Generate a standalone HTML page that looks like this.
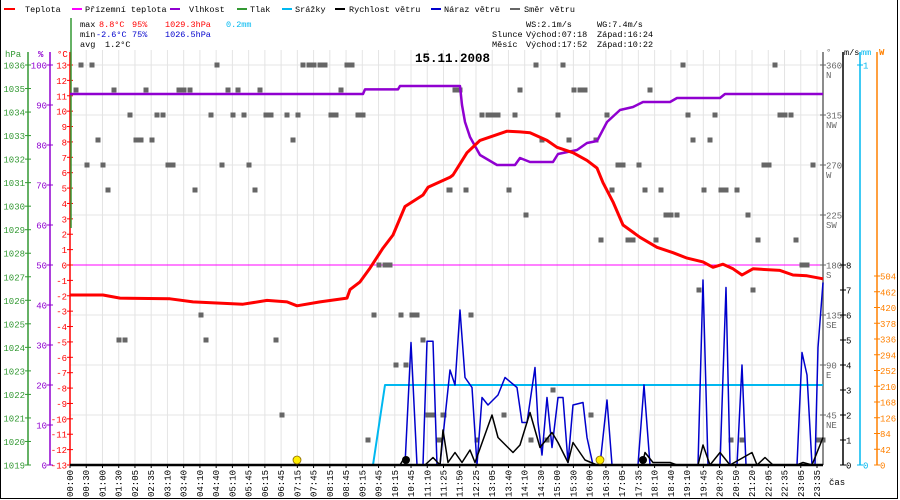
<!DOCTYPE html>
<html><head><meta charset="utf-8">
<style>
html,body{margin:0;padding:0;background:#fff;}
svg{display:block;font-family:"Liberation Mono",monospace;}
</style></head>
<body>
<svg id="chart" width="900" height="500" viewBox="0 0 900 500" xmlns="http://www.w3.org/2000/svg">
<rect x="0.5" y="-2" width="897" height="500.5" fill="#fff" stroke="#000" stroke-width="1"/>
<g id="grid"></g>
<g id="axes"></g>
<g id="series"></g>
<g font-size="8.5">
 <line x1="4" y1="9" x2="15" y2="9" stroke="#f00" stroke-width="2"/><text x="25" y="12">Teplota</text>
 <line x1="72" y1="9" x2="82" y2="9" stroke="#f0f" stroke-width="2"/><text x="85" y="12">Přízemní teplota</text>
 <line x1="170" y1="9" x2="180" y2="9" stroke="#9000d0" stroke-width="2"/><text x="189" y="12">Vlhkost</text>
 <line x1="237" y1="9" x2="247" y2="9" stroke="#339933" stroke-width="2"/><text x="250" y="12">Tlak</text>
 <line x1="282" y1="9" x2="292" y2="9" stroke="#00b8f0" stroke-width="2"/><text x="295" y="12">Srážky</text>
 <line x1="335" y1="9" x2="345" y2="9" stroke="#000" stroke-width="2"/><text x="349" y="12">Rychlost větru</text>
 <line x1="431" y1="9" x2="441" y2="9" stroke="#0000cc" stroke-width="2"/><text x="444" y="12">Náraz větru</text>
 <line x1="510" y1="9" x2="520" y2="9" stroke="#666" stroke-width="2"/><text x="524" y="12">Směr větru</text>
</g>
<g font-size="8.5">
 <text x="80" y="27">max</text><text x="99" y="27" fill="#f00">8.8°C</text><text x="132" y="27" fill="#f00">95%</text><text x="165" y="27" fill="#f00">1029.3hPa</text><text x="226" y="27" fill="#00b8f0">0.2mm</text>
 <text x="80" y="37">min</text><text x="96" y="37" fill="#0000cc">-2.6°C</text><text x="132" y="37" fill="#0000cc">75%</text><text x="165" y="37" fill="#0000cc">1026.5hPa</text>
 <text x="80" y="47">avg</text><text x="105" y="47">1.2°C</text>
 <text x="526" y="27">WS:2.1m/s</text><text x="597" y="27">WG:7.4m/s</text>
 <text x="492" y="37">Slunce</text><text x="526" y="37">Východ:07:18</text><text x="597" y="37">Západ:16:24</text>
 <text x="492" y="47">Měsíc</text><text x="526" y="47">Východ:17:52</text><text x="597" y="47">Západ:10:22</text>
</g>
<text x="415" y="62" font-size="12.5" font-weight="bold">15.11.2008</text>
</svg>
<script>
const timeLabels=["00:00","00:30","01:00","01:30","02:05","02:35","03:10","03:40","04:10","04:40","05:10","05:45","06:15","06:45","07:15","07:45","08:15","08:45","09:15","09:45","10:15","10:45","11:10","11:25","11:50","12:25","13:05","13:40","14:10","14:30","15:00","15:30","16:00","16:30","17:05","17:35","18:10","18:40","19:10","19:45","20:20","20:50","21:20","22:05","22:35","23:05","23:35"];
const hpaTicks=[1036,1035,1034,1033,1032,1031,1030,1029,1028,1027,1026,1025,1024,1023,1022,1021,1020,1019];
const humTicks=[100,90,80,70,60,50,40,30,20,10,0];
const tempTicks=[13,12,11,10,9,8,7,6,5,4,3,2,1,0,-1,-2,-3,-4,-5,-6,-7,-8,-9,-10,-11,-12,-13];
const dirTicks=[360,315,270,225,180,135,90,45];
const dirNames=["N","NW","W","SW","S","SE","E","NE"];
const windTicks=[8,7,6,5,4,3,2,1,0];
const wattTicks=[504,462,420,378,336,294,252,210,168,126,84,42,0];
// sample index (x-samples) and values
const tempS=[0,33,50,100,123,173,197,217,227,250,277,280,290,300,313,323,335,353,358,380,383,397,410,437,450,460,477,487,503,517,527,533,543,553,570,587,603,617,633,643,653,663,672,683,710,723,737,753];
const tempV=[-1.95,-1.95,-2.15,-2.2,-2.4,-2.55,-2.3,-2.4,-2.65,-2.4,-2.15,-1.6,-1.1,-0.2,1.1,1.95,3.8,4.55,5.05,5.7,5.85,7.3,8.1,8.7,8.65,8.6,8.1,7.65,7.3,6.8,6.3,5.35,4.1,2.6,1.8,1.15,0.8,0.45,0.2,-0.15,0.05,-0.25,-0.65,-0.25,-0.35,-0.65,-0.7,-0.9];
const humS=[0,293,295,328,330,390,392,395,400,410,427,445,450,460,483,488,507,517,527,537,550,563,573,600,607,650,655,753];
const humV=[92.75,92.75,93.9,93.9,94.75,94.75,90,85.75,82,77.5,75,75,76.75,75.75,75.75,77.75,78.75,80.5,81,85.75,88.75,89.5,90.75,90.75,91.75,91.75,92.75,92.75];
const gustS=[0,335,341,347,353,357,363,367,370,380,385,390,395,402,407,412,418,428,435,447,452,457,465,468,472,477,482,488,493,498,503,513,517,523,530,537,542,568,574,580,628,633,638,650,656,660,667,672,676,727,732,737,742,745,748,753];
const gustV=[0,0,4.9,0,0,4.95,4.95,0,0,3.8,3.2,6.2,3.5,3.1,0,2.7,2.4,2.8,3.5,3.1,1.7,1.7,3.9,1.7,0.4,2.7,0.7,2.7,2.7,0.1,2.4,2.5,1.1,0,0,2.6,0,0,3.2,0,0,7.4,0,0,7.1,0,0,4.0,0,0,4.5,3.6,0,0,4.7,7.3];
const windS=[0,330,333,336,355,363,370,373,378,385,392,400,405,422,428,443,450,460,470,482,488,498,503,515,527,572,575,583,600,607,628,633,640,650,660,682,687,695,703,727,733,742,753];
const windV=[0,0,0.2,0,0,0.3,0,1.4,0.1,0.5,0.1,0.6,0.1,2.0,1.1,0.5,0.8,2.1,0.7,1.3,0.9,0.1,0.9,0.2,0,0,0.5,0.1,0.1,0,0,0.8,0,0.5,0,0.5,0,0.3,0,0,0.1,0,1.1];
const rainS=[0,303,315,753];
const rainV=[0,0,0.2,0.2];
const dirS=[11,22,147,233,239,244,250,255,277,282, 6,44,76,109,114,120,158,168,190,271, 60,87,93,141,163,174,196,201,217,228,261,266,288,293, 28,66,71,82,223, 17,33,98,103,152,179, 38,125,185,379, 309,315,320, 131,304,331,342,347, 49,55,136,206,353, 326,336, 212,358,363,373, 298,369,
 466,493,613,705, 385,390,450,504,510,515,580, 412,418,423,428,445,488,537,618,645,710,715,721, 472,499,526,623,640, 548,553,569,694,699,743, 380,396,439,542,575,591,634,651,656,667, 456,596,601,607,678, 531,558,563,586,688,726, 732,737, 629,683, 401, 483, 374,434,521, 407,461,477,661,672,748,753];
const dirV=[360,360,360,360,360,360,360,360,360,360, 337.5,337.5,337.5,337.5,337.5,337.5,337.5,337.5,337.5,337.5, 315,315,315,315,315,315,315,315,315,315,315,315,315,315, 292.5,292.5,292.5,292.5,292.5, 270,270,270,270,270,270, 247.5,247.5,247.5,247.5, 180,180,180, 135,135,135,135,135, 112.5,112.5,112.5,112.5,112.5, 90,90, 45,45,45,45, 22.5,22.5,
 360,360,360,360, 337.5,337.5,337.5,337.5,337.5,337.5,337.5, 315,315,315,315,315,315,315,315,315,315,315,315, 292.5,292.5,292.5,292.5,292.5, 270,270,270,270,270,270, 247.5,247.5,247.5,247.5,247.5,247.5,247.5,247.5,247.5,247.5, 225,225,225,225,225, 202.5,202.5,202.5,202.5,202.5,202.5, 180,180, 157.5,157.5, 135, 67.5, 45,45,45, 22.5,22.5,22.5,22.5,22.5,22.5,22.5];
const sunS=[227,530];
const moonS=[336,573];

const NS="http://www.w3.org/2000/svg";
const X0=70,X1=823,Y0=65,YB=465;
const xS=s=>X0+s;
const yT=t=>265-t*(400/26);
const yH=h=>YB-h*4;
const yP=p=>YB-(p-1019)*(400/17);
const yW=v=>YB-v*25;
const yR=m=>YB-m*400;
const yD=d=>YB-d*(400/360);
const yWatt=w=>YB-w*(189/504);
function el(tag,attrs,parent,txt){const e=document.createElementNS(NS,tag);for(const k in attrs)e.setAttribute(k,attrs[k]);if(txt!==undefined)e.textContent=txt;parent.appendChild(e);return e;}
const grid=document.getElementById('grid'),axes=document.getElementById('axes'),ser=document.getElementById('series');

timeLabels.forEach((l,i)=>{const x=xS(i*747/46);
 const g=el('line',{x1:x,y1:50,x2:x,y2:YB,stroke:'#e4e4e4','stroke-width':1},grid);
 
 
 el('line',{x1:x,y1:YB,x2:x,y2:YB+3,stroke:'#000'},axes);
 const t=el('text',{x:0,y:0,'font-size':9,transform:`translate(${x+3},497) rotate(-90)`},axes,l);
 
 
});
for(let y=Y0;y<YB;y+=50){const g=el('line',{x1:X0,y1:y,x2:X1,y2:y,stroke:'#e4e4e4'},grid);
 
 }
el('line',{x1:X0,y1:265,x2:X1,y2:265,stroke:'#f0f','stroke-width':1},grid);

function vaxis(x,col,ticks,yf,ax,name,anchor,lx){
 const a=el('line',{x1:x,y1:52,x2:x,y2:YB,stroke:col,'stroke-width':1.5},axes);
 
 
 ticks.forEach(v=>{const y=yf(v);el('line',{x1:x-3,y1:y,x2:x+3,y2:y,stroke:col},axes);
  const t=el('text',{x:lx,y:y+3.5,fill:col,'font-size':9,'text-anchor':anchor},axes,String(v));
  
  });
}
vaxis(28,'#339933',hpaTicks,yP,'hpa','pressure-axis','end',25);
vaxis(50,'#9000d0',humTicks,yH,'hum','humidity-axis','end',47);
vaxis(70,'#f00',tempTicks,yT,'t','temperature-axis','end',67);
el('line',{x1:71,y1:18,x2:71,y2:228,stroke:'#339933','stroke-width':1.5},axes);
const dA=el('line',{x1:823,y1:52,x2:823,y2:YB,stroke:'#666','stroke-width':1.5},axes);


dirTicks.forEach((v,i)=>{const y=yD(v);el('line',{x1:820,y1:y,x2:826,y2:y,stroke:'#666'},axes);
 el('text',{x:826,y:y+3.5,fill:'#666','font-size':9},axes,String(v));
 el('text',{x:826,y:y+13,fill:'#666','font-size':9},axes,dirNames[i]);});
el('text',{x:826,y:55,fill:'#666','font-size':9},axes,'°');
const wA=el('line',{x1:843,y1:52,x2:843,y2:YB,stroke:'#000','stroke-width':1.5},axes);


windTicks.forEach(v=>{const y=yW(v);el('line',{x1:840,y1:y,x2:846,y2:y,stroke:'#000'},axes);el('text',{x:846,y:y+3.5,'font-size':9},axes,String(v));});
el('text',{x:844,y:55,'font-size':8.5},axes,'m/s');
const rA=el('line',{x1:860,y1:52,x2:860,y2:YB,stroke:'#00b8f0','stroke-width':1.5},axes);


[1,0].forEach(v=>{const y=yR(v);el('line',{x1:857,y1:y,x2:863,y2:y,stroke:'#00b8f0'},axes);el('text',{x:863,y:y+3.5,fill:'#00b8f0','font-size':9},axes,String(v));});
el('text',{x:861,y:55,fill:'#00b8f0','font-size':8.5},axes,'mm');
const oA=el('line',{x1:877,y1:52,x2:877,y2:YB,stroke:'#ff8000','stroke-width':1.5},axes);


wattTicks.forEach(v=>{const y=yWatt(v);el('line',{x1:874,y1:y,x2:880,y2:y,stroke:'#ff8000'},axes);el('text',{x:880,y:y+3.5,fill:'#ff8000','font-size':9},axes,String(v));});
el('text',{x:879,y:55,fill:'#ff8000','font-size':9,'font-weight':'bold'},axes,'W');
el('text',{x:829,y:485,'font-size':9},axes,'čas');
el('text',{x:5,y:57,fill:'#339933','font-size':9},axes,'hPa');
el('text',{x:38,y:57,fill:'#9000d0','font-size':9,'font-weight':'bold'},axes,'%');
el('text',{x:57,y:57,fill:'#f00','font-size':9},axes,'°C');

function path(S,V,yf,col,w,name){const d=S.map((s,i)=>(i?'L':'M')+xS(s).toFixed(1)+' '+yf(V[i]).toFixed(1)).join(' ');
 const p=el('path',{d:d,fill:'none',stroke:col,'stroke-width':w,'stroke-linejoin':'round'},ser);
 
 }
dirS.forEach((s,i)=>{const r=el('rect',{x:xS(s)-2.5,y:yD(dirV[i])-2.5,width:5,height:5,fill:'#666'},ser);
 
 });
path(rainS,rainV,yR,'#00b8f0',2,'precipitation-line');
path(gustS,gustV,yW,'#0000cc',1.5,'wind-gust-line');
path(windS,windV,yW,'#000',1.5,'wind-speed-line');
el('line',{x1:X0,y1:YB,x2:X1,y2:YB,stroke:'#000','stroke-width':2.5},ser);
path(humS,humV,yH,'#9000d0',2.5,'humidity-line');
path(tempS,tempV,yT,'#f00',3,'temperature-line');
sunS.forEach(s=>{const c=el('circle',{cx:xS(s),cy:YB-5,r:4,fill:'#ffee00',stroke:'#886600','stroke-width':0.8},ser);
 
 });
moonS.forEach(s=>{const c=el('circle',{cx:xS(s),cy:YB-5,r:4,fill:'#000'},ser);
 
 });
</script>
</body></html>
